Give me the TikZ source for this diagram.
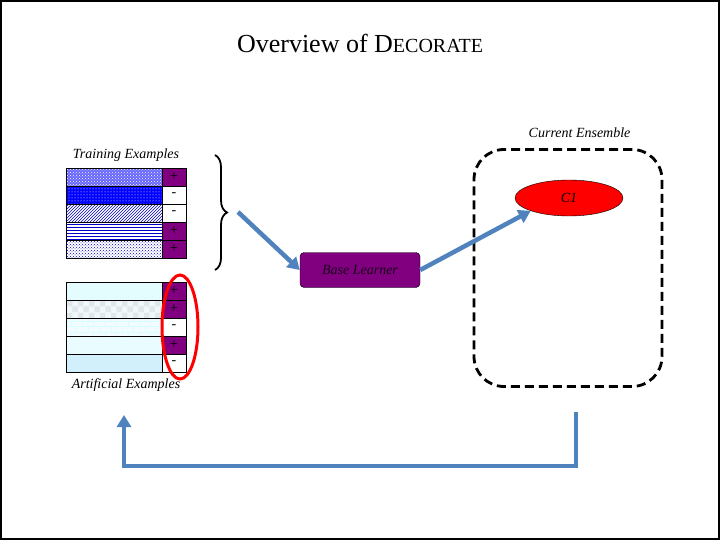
\documentclass[tikz,border=0pt]{standalone}
\usepackage{fontspec}
\setmainfont{Liberation Serif}
\usetikzlibrary{patterns,decorations.pathreplacing,arrows.meta,shapes.geometric}
\definecolor{purp}{RGB}{128,0,128}
\definecolor{steel}{RGB}{80,130,190}
\begin{document}
\begin{tikzpicture}[x=1pt,y=-1pt,
 cell/.style={draw=black,line width=0.8pt},
 lab/.style={draw=black,line width=0.8pt,minimum width=24pt,minimum height=18pt,inner sep=0,font=\fontsize{14}{16}\selectfont},
 plab/.style={lab,fill=purp,text=black},
 nlab/.style={lab,fill=white},
 flow/.style={draw=steel,line width=4.5pt,-{Triangle[length=12pt,width=14pt]}},
 txt/.style={font=\fontsize{14}{16}\selectfont\itshape}]
\useasboundingbox (0,0) rectangle (720,540);
\draw[line width=1.5pt] (1,1) rectangle (719,539);
\node (title) at (360,43) {\fontsize{26}{30}\selectfont Overview of D{\fontsize{20}{24}\selectfont ECORATE}};
% training
\fill[blue!60] (66,168) rectangle (162,186); \fill[pattern=crosshatch dots,pattern color=white] (66,168) rectangle (162,186);
\fill[blue] (66,186) rectangle (162,204); \fill[pattern=dots,pattern color=white] (66,186) rectangle (162,204);
\fill[pattern=north east lines,pattern color=blue!80!black] (66,204) rectangle (162,222);
\fill[pattern=horizontal lines,pattern color=blue!80!black] (66,222) rectangle (162,240);
\fill[pattern=crosshatch dots,pattern color=blue!80!black] (66,240) rectangle (162,258);
\foreach \y in {168,186,...,240} \draw[cell] (66,\y) rectangle (162,\y+18);
\node[plab] (t1) at (174,177) {+};
\node[nlab] (t2) at (174,195) {-};
\node[nlab] (t3) at (174,213) {-};
\node[plab] (t4) at (174,231) {+};
\node[plab] (t5) at (174,249) {+};
\node[txt,anchor=south] (tl) at (126,165) {Training Examples};
% artificial
\fill[cyan!5] (66,282) rectangle (162,354);
\fill[pattern=crosshatch,pattern color=cyan!15] (66,282) rectangle (162,300);
\fill[pattern=checkerboard light gray,opacity=0.08] (66,300) rectangle (162,318);
\fill[pattern=bricks,pattern color=cyan!15] (66,318) rectangle (162,336);
\fill[pattern=north east lines,pattern color=cyan!15] (66,336) rectangle (162,354);
\fill[cyan!18] (66,354) rectangle (162,372);
\foreach \y in {282,300,...,354} \draw[cell] (66,\y) rectangle (162,\y+18);
\node[plab] (a1) at (174,291) {+};
\node[plab] (a2) at (174,309) {+};
\node[nlab] (a3) at (174,327) {-};
\node[plab] (a4) at (174,345) {+};
\node[nlab] (a5) at (174,363) {-};
\node[txt,anchor=north] (al) at (126,375) {Artificial Examples};
\node[draw=red,line width=3pt,ellipse,minimum width=36pt,minimum height=104pt] (sel) at (180,327) {};
% brace
\draw[line width=1.8pt,decorate,decoration={brace,amplitude=12pt}] (215,155) -- (215,270);
\coordinate (bt) at (238,212);
% base learner
\node[draw=black,fill=purp,rounded corners=4pt,minimum width=120pt,minimum height=35pt,txt,text=black!80!purp] (bl) at (360,270) {Base Learner};
\draw[flow] (bt) -- (bl.west);
% ensemble
\node[draw=black,dash pattern=on 9pt off 5pt,line width=2.8pt,rounded corners=30pt,minimum width=188pt,minimum height=237pt] (ens) at (568,268) {};
\node[txt,anchor=south east] (el) at (634,141) {Current Ensemble};
\node[draw=black,fill=red,ellipse,minimum width=108pt,minimum height=36pt,txt] (c1) at (569,198) {C1};
\draw[flow] (bl.east) -- (c1.south west);
% feedback
\coordinate (f1) at (576,412);
\coordinate (f2) at (124,415);
\draw[flow] (f1) -- (576,466) -- (124,466) -- (f2);
\end{tikzpicture}
\end{document}
